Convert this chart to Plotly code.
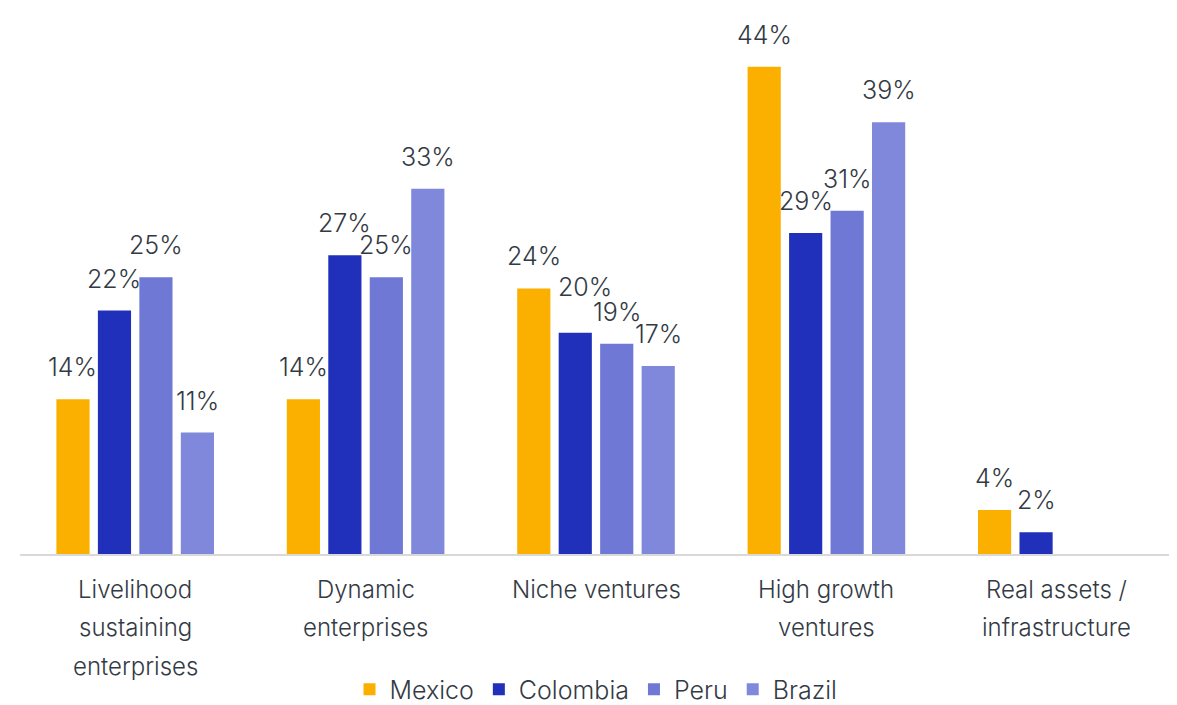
import plotly.graph_objects as go

categories = ["Livelihood\nsustaining\nenterprises", "Dynamic\nenterprises", "Niche ventures",
              "High growth\nventures", "Real assets /\ninfrastructure"]
series_names = ["Mexico", "Colombia", "Peru", "Brazil"]
mexico = [14, 14, 24, 44, 4]
colombia = [22, 27, 20, 29, 2]
peru = [25, 25, 19, 31, None]
brazil = [11, 33, 17, 39, None]
colors = ["#FBB000", "#2130BA", "#6F78D4", "#7F88DA"]

values = [mexico, colombia, peru, brazil]
cat_ids = list(range(len(categories)))

FONT = "Inter"
TXT = "#333a44"
FS_VAL = 25
FS_CAT = 24
FS_LEG = 25
BARGAP = 0.28
GROUPGAP = 0.2
n_series = len(series_names)
# manual label nudges (pixels) to avoid overlapping labels, as in the source chart
label_nudge = {(1, 2): (10, 14)}

fig = go.Figure()
for name, vals, col in zip(series_names, values, colors):
    fig.add_trace(go.Bar(
        x=cat_ids, y=vals, name=name, marker_color=col,
        marker_line_width=0,
    ))

annotations = []
# value labels above each bar, positioned from the grouped-bar layout
slot = (1 - BARGAP) / n_series
for k, vals in enumerate(values):
    off = -(1 - BARGAP) / 2 + slot * (k + 0.5)
    for i, v in enumerate(vals):
        if v is None:
            continue
        dx, dy = label_nudge.get((k, i), (0, 0))
        annotations.append(dict(
            x=i + off, xref="x", y=v, yref="y", yshift=15 + dy, xshift=dx,
            text=f"{v}%", showarrow=False, yanchor="bottom", xanchor="center",
            font=dict(family=FONT, size=FS_VAL, color=TXT, weight=300),
        ))

# category labels (multi-line, wide line spacing)
for i, cat in enumerate(categories):
    for j, line in enumerate(cat.split("\n")):
        annotations.append(dict(
            x=i, xref="x", y=0, yref="y", yshift=-35 - 38.5 * j,
            text=line, showarrow=False, yanchor="middle", xanchor="center",
            font=dict(family=FONT, size=FS_CAT, color=TXT, weight=300),
        ))

H = 705
plot_h = 548
fig.update_layout(
    width=1177, height=H,
    margin=dict(l=12, r=13, t=0, b=0),
    barmode="group", bargap=BARGAP, bargroupgap=GROUPGAP,
    plot_bgcolor="white", paper_bgcolor="white",
    annotations=annotations,
    legend=dict(orientation="h", x=0.5, xanchor="center", y=(H - 683.5) / H, yanchor="middle",
                font=dict(family=FONT, size=FS_LEG, color=TXT, weight=300),
                itemwidth=30, traceorder="normal"),
    xaxis=dict(range=[-0.5, len(categories) - 0.5], showticklabels=False, ticks="",
               showline=True, linecolor="#d9d9d9", linewidth=2, showgrid=False, zeroline=False),
    yaxis=dict(range=[0, 49.3], domain=[1 - plot_h / H, 1], visible=False,
               showgrid=False, zeroline=False),
)

fig.write_html("out.html")
